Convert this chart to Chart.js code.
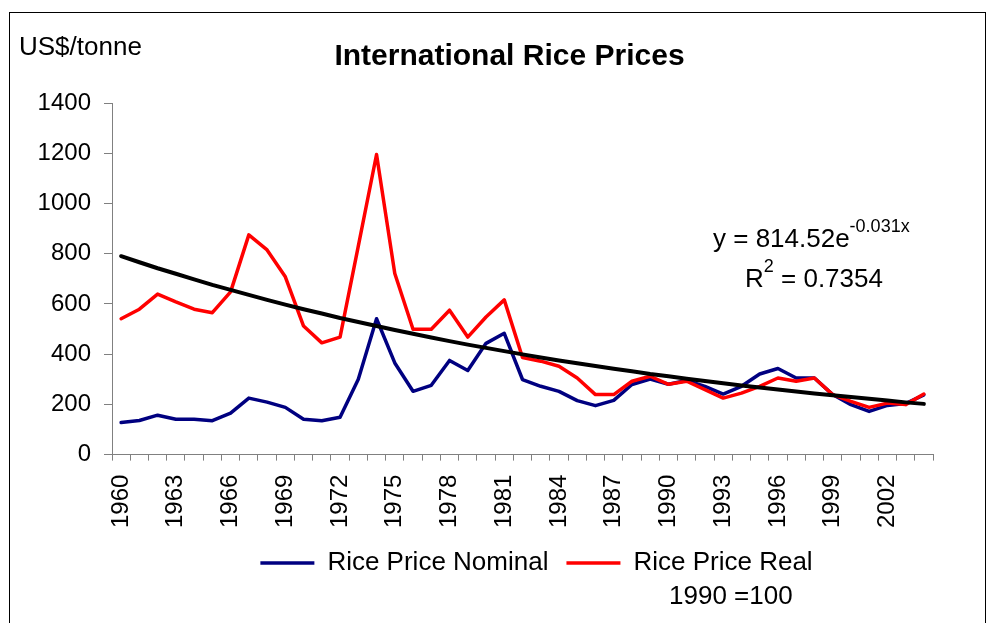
<!DOCTYPE html>
<html>
<head>
<meta charset="utf-8">
<script src="https://cdn.jsdelivr.net/npm/chart.js@4.4.1/dist/chart.umd.min.js"></script>
<style>
  body { margin: 0; background: #fff; }
  canvas { display: block; }
</style>
</head>
<body>
<canvas id="rice" width="992" height="623"></canvas>
<script>
const years = [];
for (let y = 1960; y <= 2004; ++y) years.push(String(y));

// US$/tonne
const nominal = [128, 136, 157, 141, 141, 135, 165, 225, 209, 188,
  141, 135, 149, 300, 541, 365, 252, 276, 375, 335,
  443, 483, 299, 272, 252, 215, 195, 216, 279, 301,
  280, 295, 272, 241, 272, 321, 343, 305, 305, 239,
  199, 172, 196, 203, 238];
const real = [541, 579, 639, 608, 579, 565, 648, 875, 815, 708,
  512, 445, 468, 830, 1195, 721, 499, 499, 575, 468,
  548, 616, 387, 372, 352, 305, 239, 239, 292, 312,
  280, 292, 259, 225, 245, 272, 305, 292, 305, 239,
  212, 188, 205, 199, 241];
// exponential trendline as drawn
const trend = [790, 766, 742, 720, 698, 676, 656, 636, 616, 597,
  579, 562, 544, 528, 512, 496, 481, 466, 452, 438,
  425, 412, 399, 387, 375, 364, 353, 342, 332, 321,
  312, 302, 293, 284, 275, 267, 259, 251, 243, 236,
  229, 222, 215, 208, 202];

const yTicks = [0, 200, 400, 600, 800, 1000, 1200, 1400];

const FONT = 'Liberation Sans, Arial, sans-serif';
Chart.defaults.color = '#000';
Chart.defaults.font.family = FONT;

const extras = {
  id: 'extras',
  afterLayout(chart) {
    chart.legend.left += 70;
    chart.legend.right += 70;
    chart.titleBlock.left += 43;
    chart.titleBlock.right += 43;
  },
  afterDraw(chart) {
    const ctx = chart.ctx;
    ctx.save();
    ctx.strokeStyle = '#000';
    ctx.lineWidth = 1;
    ctx.strokeRect(9.5, 12.5, 976, 700);

    ctx.fillStyle = '#000';
    ctx.textBaseline = 'alphabetic';
    ctx.textAlign = 'left';
    ctx.font = '26px ' + FONT;
    ctx.fillText('US$/tonne', 19, 55);

    // equation
    ctx.font = '26px ' + FONT;
    let s = 'y = 814.52e';
    ctx.fillText(s, 713, 247);
    let w = ctx.measureText(s).width;
    ctx.font = '18px ' + FONT;
    ctx.fillText('-0.031x', 713 + w, 232);

    ctx.font = '26px ' + FONT;
    ctx.fillText('R', 745, 287);
    w = ctx.measureText('R').width;
    ctx.font = '18px ' + FONT;
    ctx.fillText('2', 745 + w, 272);
    const w2 = ctx.measureText('2').width;
    ctx.font = '26px ' + FONT;
    ctx.fillText(' = 0.7354', 745 + w + w2, 287);

    // second line of the legend entry
    ctx.fillText('1990 =100', 669, 604);
    ctx.restore();
  }
};

new Chart(document.getElementById('rice'), {
  type: 'line',
  data: {
    labels: years,
    datasets: [{
      label: 'Rice Price Nominal',
      data: nominal,
      borderColor: '#000080',
      backgroundColor: '#000080',
      borderWidth: 3.5,
      order: 3
    }, {
      label: 'Rice Price Real',
      data: real,
      borderColor: '#ff0000',
      backgroundColor: '#ff0000',
      borderWidth: 3.5,
      order: 2
    }, {
      label: 'trend',
      data: trend,
      borderColor: '#000',
      backgroundColor: '#000',
      borderWidth: 4,
      order: 1
    }]
  },
  options: {
    responsive: false,
    animation: false,
    elements: {
      point: { radius: 0 },
      line: { tension: 0, borderCapStyle: 'round', borderJoinStyle: 'round' }
    },
    layout: { padding: { top: 12, left: 0, right: 59, bottom: 37 } },
    plugins: {
      title: {
        display: true,
        text: 'International Rice Prices',
        font: { size: 30, weight: 'bold' },
        padding: { top: 27, bottom: 28 }
      },
      legend: {
        position: 'bottom',
        labels: {
          font: { size: 26 },
          usePointStyle: true,
          pointStyle: 'line',
          pointStyleWidth: 54,
          padding: 18,
          filter: (item) => item.text !== 'trend',
          sort: (a, b) => a.datasetIndex - b.datasetIndex
        }
      },
      tooltip: { enabled: false }
    },
    scales: {
      x: {
        offset: true,
        grid: { offset: true, drawOnChartArea: false, tickLength: 6, color: '#808080' },
        border: { color: '#808080', width: 1 },
        ticks: {
          autoSkip: false,
          maxRotation: 90,
          minRotation: 90,
          padding: 14,
          font: { size: 24 },
          callback: (v, i) => (i % 3 === 0 ? years[i] : '')
        },
        afterFit: (scale) => { scale.height -= 10; }
      },
      y: {
        min: 0,
        max: 1400,
        afterBuildTicks: (scale) => { scale.ticks = yTicks.map(v => ({ value: v })); },
        grid: { drawOnChartArea: false, tickLength: 8, color: '#808080' },
        border: { color: '#808080', width: 1 },
        ticks: { padding: 13, font: { size: 24 }, callback: (v) => String(v) },
        afterFit: (scale) => { scale.width = 112; }
      }
    }
  },
  plugins: [extras]
});
</script>
</body>
</html>
